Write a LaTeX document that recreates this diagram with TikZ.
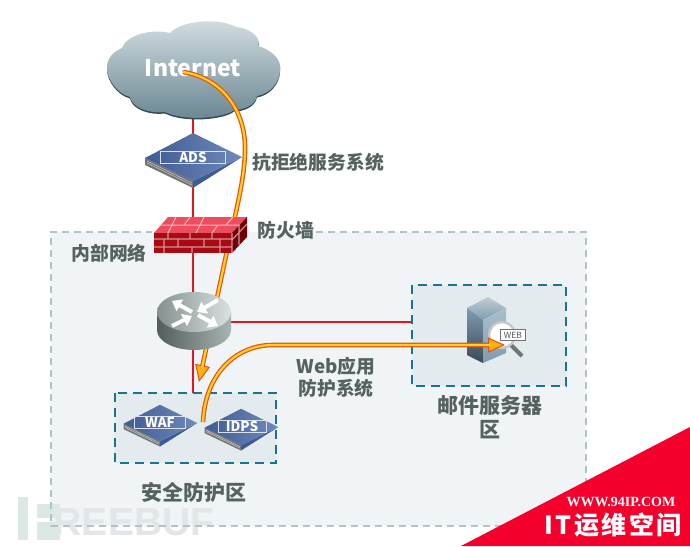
\documentclass[tikz,border=0pt]{standalone}
\usepackage{fontspec}
\setmainfont{Noto Sans CJK SC}
\newfontfamily\latinbold{Liberation Sans}
\newfontfamily\webserif{Liberation Serif}
\usetikzlibrary{arrows.meta}

\definecolor{zonefill}{HTML}{F0F4F7}
\definecolor{zoneline}{HTML}{B0C3C6}
\definecolor{areafill}{HTML}{E3EBEE}
\definecolor{arealine}{HTML}{17758C}
\definecolor{linkred}{HTML}{E5141F}
\definecolor{flowedge}{HTML}{E2521A}
\definecolor{flowcore}{HTML}{FFD21E}
\definecolor{flowhead}{HTML}{FBB20C}
\definecolor{labelgray}{HTML}{55625F}
\definecolor{bluelight}{HTML}{7089BA}
\definecolor{bluedark}{HTML}{3E5B93}
\definecolor{brickdark}{HTML}{A80A14}
\definecolor{bricktop}{HTML}{EE4D5E}
\definecolor{brickside}{HTML}{700008}
\definecolor{cornerred}{HTML}{F5002D}
\definecolor{cloudtop}{HTML}{D5DFE4}
\definecolor{cloudmid}{HTML}{A3B5BE}
\definecolor{cloudbot}{HTML}{67848F}
\definecolor{cloudedge}{HTML}{2F4A55}
\definecolor{routerdark}{HTML}{525E5B}
\definecolor{routermid}{HTML}{84918F}
\definecolor{routerlight}{HTML}{D9E1E0}
\definecolor{routerside}{HTML}{A9B4B2}
\definecolor{servertop}{HTML}{C3CDD3}
\definecolor{serverleft}{HTML}{7E9CB0}
\definecolor{serverdeep}{HTML}{3A4A55}
\definecolor{serverpale}{HTML}{A9C0CE}
\definecolor{markgreen}{HTML}{DCE8E4}
\definecolor{markgray}{HTML}{E3E6E8}

\tikzset{
    zone/.style={draw=zoneline, line width=1.2pt, dash pattern=on 7pt off 5pt},
    area/.style={draw=arealine, fill=areafill, line width=2pt, dash pattern=on 9pt off 6pt},
    redlink/.style={draw=linkred, line width=2.4pt},
    flowline/.style={draw=flowedge, line width=4.6pt, -{Triangle[length=17pt,width=15pt,fill=flowhead,line width=1pt]}},
    flowmid/.style={draw=flowcore, line width=2.2pt, shorten >=15pt},
    tag/.style={text=labelgray, font=\fontsize{18.8}{22}\selectfont\bfseries, align=center, inner sep=0pt},
    bigtag/.style={text=labelgray, font=\fontsize{21}{24}\selectfont\bfseries, align=center, inner sep=0pt},
    devlabel/.style={draw=white!75!bluelight, line width=.6pt, text=white, font=\fontsize{13.5}{14}\selectfont\bfseries, inner sep=0pt, minimum height=12pt},
    whitearrow/.style={draw=white, line width=4pt, -{Triangle[length=9pt,width=13pt,fill=white]}},
    pics/appliance/.style={code={
        \fill[black!55] (-48,1) -- (0,24) -- (0,31) -- (-48,8) -- cycle;
        \draw[white!80!black, line width=.5pt] (-46,4) -- (-1,26) (-46,6) -- (-1,28);
        \fill[bluedark] (49,0) -- (0,24) -- (0,31) -- cycle;
        \shade[left color=bluedark, right color=bluelight] (-48,1) -- (0,-24) -- (49,0) -- (0,24) -- cycle;
    }}
}

\begin{document}
\begin{tikzpicture}[x=1pt, y=-1pt]
    \useasboundingbox (0,0) rectangle (690,546);
    \fill[white] (0,0) rectangle (690,546);

    % zones
    \fill[zonefill] (51,232) rectangle (586,526);
    \draw[zone] (316,232) -- (586,232) -- (586,526) -- (51,526) -- (51,232) -- (152,232);
    \draw[area] (115,393) rectangle (276,463);
    \draw[area] (412,285) rectangle (566,386);

    \coordinate (cloudB) at (193,116);
    \coordinate (adsT) at (193,135);
    \coordinate (adsB) at (193,186);
    \coordinate (fwT) at (193,220);
    \coordinate (fwB) at (193,252);
    \coordinate (routerT) at (193,295);
    \coordinate (routerB) at (193,348);
    \coordinate (safeT) at (193,393);
    \coordinate (routerR) at (230,322);
    \coordinate (mailL) at (412,322);

    \draw[redlink] (cloudB) -- (adsT);
    \draw[redlink] (adsB) -- (fwT);
    \draw[redlink] (fwB) -- (routerT);
    \draw[redlink] (routerB) -- (safeT);
    \draw[redlink] (routerR) -- (mailL);

    % cloud
    \def\cloudpath{(107,68) .. controls (107,58) and (113,52) .. (122,48)
        .. controls (126,36) and (150,28) .. (170,33)
        .. controls (180,21) and (218,17) .. (236,27)
        .. controls (250,28) and (262,38) .. (258,46)
        .. controls (272,50) and (282,60) .. (280,70)
        .. controls (280,82) and (270,94) .. (257,96)
        .. controls (255,106) and (243,110) .. (234,110)
        .. controls (225,118) and (185,122) .. (165,112)
        .. controls (150,114) and (132,108) .. (130,97)
        .. controls (118,94) and (107,80) .. (107,68) -- cycle}
    \fill[cloudedge, yshift=-1.5pt] \cloudpath;
    \shade[top color=cloudtop, middle color=cloudmid, bottom color=cloudbot] \cloudpath;
    \node[text=white, font=\fontsize{23}{26}\selectfont\bfseries, inner sep=0pt] (internet) at (193,68) {Internet};

    % first flow passes behind firewall and router
    \coordinate (flowA) at (183,72);
    \coordinate (flowB) at (199,382);
    \def\flowone{(flowA) .. controls (222,78) and (244,110) .. (245,145) .. controls (246,180) and (232,225) .. (223,270) -- (flowB)}
    \draw[flowline] \flowone;
    \draw[flowmid] \flowone;

    % ads
    \pic at (193,157) {appliance};
    \node[devlabel, minimum width=65pt] (ads) at (193,157) {ADS};

    % firewall
    \fill[bricktop] (154,233) -- (168,217) -- (247,217) -- (232,233) -- cycle;
    \fill[brickdark] (154,233) rectangle (232,253);
    \fill[brickside] (232,233) -- (247,217) -- (247,237) -- (232,253) -- cycle;
    \draw[white!60!bricktop, line width=1pt]
        (161,225) -- (240,225) (176,217) -- (168,233) (190,217) -- (184,225) (204,217) -- (196,233)
        (218,225) -- (212,233) (233,217) -- (226,225);
    \draw[white!55!brickdark, line width=1.1pt]
        (154,239) -- (232,239) (154,247) -- (232,247)
        (168,233) -- (168,239) (190,233) -- (190,239) (212,233) -- (212,239)
        (164,239) -- (164,253) (178,239) -- (178,247) (192,247) -- (192,253) (204,239) -- (204,247) (220,239) -- (220,253)
        (232,233) -- (232,253) (239,225) -- (239,245) (232,240) -- (247,224);

    % router
    \shade[left color=routerdark, right color=routerside] (157,312) -- (157,330) arc[start angle=180, end angle=360, x radius=37pt, y radius=20pt] -- (231,312) -- cycle;
    \shade[left color=routermid, right color=routerlight] (194,312) ellipse[x radius=37pt, y radius=20pt];
    \coordinate (arrTLa) at (192,312);
    \coordinate (arrTLb) at (172,301);
    \coordinate (arrTRa) at (218,300);
    \coordinate (arrTRb) at (197,312);
    \coordinate (arrBLa) at (172,326);
    \coordinate (arrBLb) at (192,316);
    \coordinate (arrBRa) at (198,315);
    \coordinate (arrBRb) at (218,326);
    \draw[whitearrow] (arrTLa) -- (arrTLb);
    \draw[whitearrow] (arrTRa) -- (arrTRb);
    \draw[whitearrow] (arrBLa) -- (arrBLb);
    \draw[whitearrow] (arrBRa) -- (arrBRb);

    % waf, idps
    \pic[scale=.76] at (160,423) {appliance};
    \pic[scale=.76] at (241,427) {appliance};
    \node[devlabel, minimum width=51pt] (waf) at (160,422) {WAF};
    \node[devlabel, minimum width=48pt] (idps) at (242,426) {IDPS};

    % server
    \shade[top color=servertop, bottom color=serverleft] (467,308) -- (488,297) -- (506,308) -- (483,320) -- cycle;
    \shade[top color=serverleft, bottom color=serverdeep] (467,308) -- (483,320) -- (483,363) -- (467,355) -- cycle;
    \shade[top color=serverpale, bottom color=serverleft] (483,320) -- (506,308) -- (506,353) -- (483,363) -- cycle;
    \draw[black!55, line width=4pt] (511,345) -- (522,356);
    \draw[black!22, fill=white, line width=2.4pt] (502,335) circle[radius=13pt];
    \node[draw=black!55, fill=white, text=black!65, font=\fontsize{8.5}{9}\selectfont, minimum width=25pt, minimum height=11pt, inner sep=0pt] (web) at (513,335) {WEB};

    % second flow
    \coordinate (flowC) at (203,422);
    \coordinate (flowD) at (505,345);
    \def\flowtwo{(flowC) .. controls (205,375) and (235,345) .. (273,345) -- (flowD)}
    \draw[flowline] \flowtwo;
    \draw[flowmid] \flowtwo;

    % labels
    \node[tag] (adslabel) at (318,162) {抗拒绝服务系统};
    \node[tag] (fwlabel) at (286,230) {防火墙};
    \node[tag] (innerlabel) at (109,253) {内部网络};
    \node[tag] (waflabel) at (336,377) {Web应用\\防护系统};
    \node[bigtag] (safelabel) at (194,492) {安全防护区};
    \node[bigtag] (maillabel) at (490,417) {邮件服务器\\区};

    % watermark
    \fill[markgreen] (18,497) rectangle (28,540);
    \fill[markgreen] (37,504) rectangle (60,518);
    \fill[markgreen] (37,522) rectangle (60,540);
    \node[text=markgray, font=\fontsize{39}{42}\latinbold\bfseries, inner sep=0pt] (freebuf) at (134,522) {REEBUF};
    \draw[zone] (51,490) -- (51,526) -- (210,526);

    % corner
    \fill[cornerred] (461,546) -- (690,427) -- (690,546) -- cycle;
    \node[text=white, font=\fontsize{14}{15}\webserif\bfseries, inner sep=0pt] (siteurl) at (621,502) {WWW.94IP.COM};
    \node[text=white, font=\fontsize{25}{27}\selectfont\bfseries\addfontfeature{LetterSpace=10}, inner sep=0pt] (sitename) at (613,525) {IT运维空间};
\end{tikzpicture}
\end{document}
